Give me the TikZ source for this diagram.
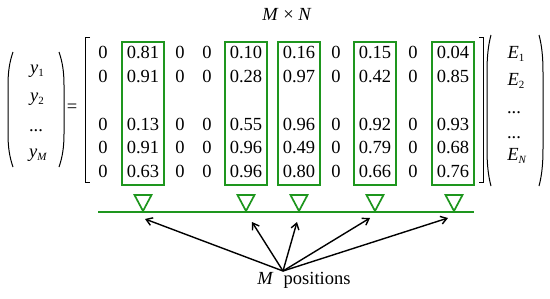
\documentclass[tikz,border=0pt]{standalone}
\usepackage{fontspec}
\setmainfont{Liberation Serif}
\usetikzlibrary{arrows.meta}
\definecolor{grn}{RGB}{30,150,30}
\newcommand\lowsub[1]{\raisebox{-3.5pt}{\fontsize{11}{11}\selectfont #1}}
\begin{document}
\begin{tikzpicture}[x=1pt,y=-1pt,
  txt/.style={inner sep=0pt, anchor=base, font=\fontsize{18.5}{22}\selectfont},
  colbox/.style={draw=grn, line width=1.7pt, minimum width=42pt, minimum height=143pt, inner sep=0pt},
  marker/.style={draw=grn, line width=1.7pt, line join=miter},
  axisline/.style={draw=grn, line width=2.8pt},
  arr/.style={-{Straight Barb[length=6pt,width=8pt]}, line width=1.4pt},
  delim/.style={line width=1pt}]
\useasboundingbox (0,0) rectangle (550,298);

% title
\node[txt] (title) at (287,20) {\textit{M} × \textit{N}};

% left vector
\draw[delim] (13,52) .. controls (9.5,62) and (8,72) .. (8,85) -- (8,134) .. controls (8,147) and (9.5,157) .. (13,167);
\draw[delim] (59,52) .. controls (62.5,62) and (64,72) .. (64,85) -- (64,134) .. controls (64,147) and (62.5,157) .. (59,167);
\node[txt] (y1) at (37,73) {\textit{y}\lowsub{1}};
\node[txt] (y2) at (37,101) {\textit{y}\lowsub{2}};
\node[txt] (yd) at (36,131) {...};
\node[txt] (yM) at (38,157) {\textit{y}\lowsub{\textit{M}}};

% equals
\node[txt, anchor=center] (eq) at (72,108) {=};

% brackets
\draw[delim] (90,37) -- (85,37) -- (85,182) -- (90,182);
\draw[delim] (479,37) -- (483,37) -- (483,182) -- (479,182);

% matrix entries
\def\xs{{103,143,180,207,246,299,336,375,413,453}}
\foreach \yy/\vals [count=\r] in {
  58/{0,0.81,0,0,0.10,0.16,0,0.15,0,0.04},
  82/{0,0.91,0,0,0.28,0.97,0,0.42,0,0.85},
  130/{0,0.13,0,0,0.55,0.96,0,0.92,0,0.93},
  153/{0,0.91,0,0,0.96,0.49,0,0.79,0,0.68},
  177/{0,0.63,0,0,0.96,0.80,0,0.66,0,0.76}}{
  \foreach \v [count=\c] in \vals {
    \pgfmathsetmacro\xx{\xs[\c-1]}
    \node[txt] (m\r-\c) at (\xx,\yy) {\v};
  }
}

% column boxes
\foreach \x [count=\i] in {143,246,299,375,453}{
  \node[colbox] (box\i) at (\x,113.5) {};
}

% right vector
\draw[delim] (491,35) .. controls (488,46) and (487,58) .. (487,72) -- (487,149) .. controls (487,163) and (488,175) .. (491,186);
\draw[delim] (539,35) .. controls (542,46) and (543,58) .. (543,72) -- (543,149) .. controls (543,163) and (542,175) .. (539,186);
\node[txt] (E1) at (516,58) {\textit{E}\lowsub{1}};
\node[txt] (E2) at (516,85) {\textit{E}\lowsub{2}};
\node[txt] (Ed1) at (514,113) {...};
\node[txt] (Ed2) at (514,138) {...};
\node[txt] (EN) at (517,160) {\textit{E}\lowsub{\textit{N}}};

% green line and markers
\coordinate (la) at (98,212);
\coordinate (lb) at (474,212);
\draw[axisline] (la) -- (lb);
\foreach \x [count=\i] in {143,246,299,375,454}{
  \draw[marker] (\x-8.5,195) -- (\x+8.5,195) -- (\x,211) -- cycle;
}

% arrows
\coordinate (o) at (283,271);
\coordinate (t1) at (145,219);
\coordinate (t2) at (252,222);
\coordinate (t3) at (297,222);
\coordinate (t4) at (370,218);
\coordinate (t5) at (448,218);
\foreach \i in {1,...,5}{ \draw[arr] (o) -- (t\i); }

\node[txt] (pos) at (304,284) {\textit{M}\hspace{10pt}positions};
\end{tikzpicture}
\end{document}
